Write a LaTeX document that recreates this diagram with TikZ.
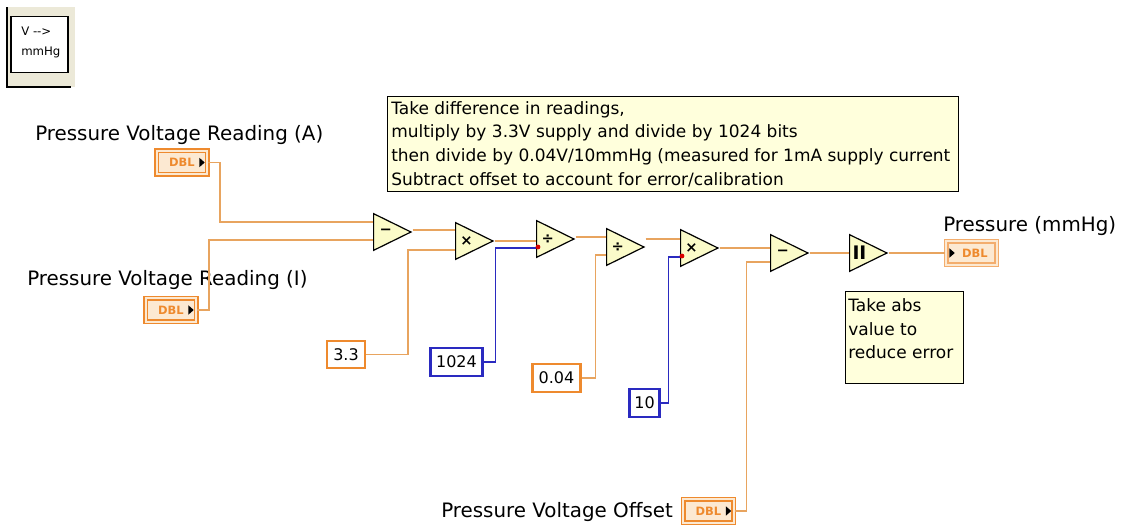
\documentclass[tikz,border=0pt]{standalone}
\usepackage{fontspec}
\setmainfont{DejaVu Sans}
\usetikzlibrary{shapes.geometric}
\definecolor{wireorange}{HTML}{E8A45F}
\definecolor{wireblue}{HTML}{2A2AC0}
\definecolor{termorange}{HTML}{EE8A2E}
\definecolor{termfill}{HTML}{FCE9D2}
\definecolor{notefill}{HTML}{FFFFDC}
\definecolor{primfill}{HTML}{FBFBC9}
\definecolor{iconfill}{HTML}{ECE9D8}
\begin{document}
\begin{tikzpicture}[
    x=0.75pt, y=-0.75pt,
    font=\fontsize{14.9}{17}\selectfont,
    prim/.style={draw=black, line width=0.9pt, fill=primfill, isosceles triangle, isosceles triangle stretches, shape border rotate=0, inner sep=0pt, minimum width=27.5pt, minimum height=28pt, anchor=lower side, font=\fontsize{11}{11}\selectfont\bfseries},
    wire/.style={draw=wireorange, line width=1.1pt},
    bluewire/.style={draw=wireblue, line width=1.1pt},
    dblterm/.style={draw=termorange, line width=1.1pt, double=termfill, double distance=1.4pt, fill=termfill, inner sep=0pt, minimum width=38pt, minimum height=17.5pt, text=termorange, font=\fontsize{8.6}{9}\selectfont\bfseries},
    constorange/.style={draw=termorange, line width=1.7pt, fill=white, inner sep=0pt, minimum height=20.5pt, font=\fontsize{12}{13}\selectfont},
    constblue/.style={constorange, draw=wireblue},
    note/.style={draw=black, line width=0.8pt, fill=notefill, inner sep=0pt, anchor=north west},
    notetext/.style={anchor=west, inner sep=0pt, font=\fontsize{12.75}{14}\selectfont},
    label/.style={inner sep=0pt},
    pin/.style={circle, fill=red!85!black, inner sep=0pt, minimum size=3.6pt}
]
    \useasboundingbox (0,0) rectangle (1122,525);

    % icon
    \fill[iconfill] (7,7) rectangle (75,87);
    \draw[black, line width=0.9pt] (7,7) -- (7,87) -- (71,87);
    \node[draw=black, line width=1.1pt, fill=white, minimum width=43pt, minimum height=42pt, inner sep=0pt] (icon) at (39.5,44.5) {};
    \node[label, font=\fontsize{8.8}{9}\selectfont, anchor=west] (iconA) at (21,31) {V {-}{-}>};
    \node[label, font=\fontsize{8.8}{9}\selectfont, anchor=west] (iconB) at (21,52) {mmHg};

    % notes
    \node[note, minimum width=428pt, minimum height=71pt] (noteA) at (387,96) {};
    \node[notetext] (noteA1) at (391,110) {Take difference in readings,};
    \node[notetext] (noteA2) at (391,133) {multiply by 3.3V supply and divide by 1024 bits};
    \node[notetext] (noteA3) at (391,157) {then divide by 0.04V/10mmHg (measured for 1mA supply current};
    \node[notetext] (noteA4) at (391,180) {Subtract offset to account for error/calibration};

    \node[note, minimum width=88.5pt, minimum height=69pt] (noteB) at (845,291) {};
    \node[notetext] (noteB1) at (848,305) {Take abs};
    \node[notetext] (noteB2) at (848,329) {value to};
    \node[notetext] (noteB3) at (848,352) {reduce error};

    % labels
    \node[label, anchor=west] (labA) at (35,135) {Pressure Voltage Reading (A)};
    \node[label, anchor=west] (labI) at (27,280) {Pressure Voltage Reading (I)};
    \node[label, anchor=west] (labO) at (441,512) {Pressure Voltage Offset};
    \node[label, anchor=west] (labP) at (943,226) {Pressure (mmHg)};

    % terminals
    \node[dblterm] (termA) at (182,162.5) {DBL\hspace{7pt}};
    \node[dblterm] (termI) at (171,310) {DBL\hspace{7pt}};
    \node[dblterm] (termO) at (708.5,511) {DBL\hspace{7pt}};
    \node[dblterm, draw=termorange!70] (termP) at (971.5,253) {\hspace{5pt}DBL};
    \foreach \t in {termA,termI,termO}
        \fill[black] ([xshift=-6.5pt,yshift=3.5pt]\t.east) -- ([xshift=-2.5pt]\t.east) -- ([xshift=-6.5pt,yshift=-3.5pt]\t.east) -- cycle;
    \fill[black] ([xshift=3pt,yshift=3.5pt]termP.west) -- ([xshift=7pt]termP.west) -- ([xshift=3pt,yshift=-3.5pt]termP.west) -- cycle;

    % constants
    \node[constorange, minimum width=28pt] (c33) at (346,354.5) {3.3};
    \node[constblue, minimum width=39pt] (c1024) at (456.5,362) {1024};
    \node[constorange, minimum width=36pt] (c004) at (556.5,378) {0.04};
    \node[constblue, minimum width=22.5pt] (c10) at (644.5,403) {10};

    % primitives
    \node[prim] (subA) at (373,232) {−};
    \node[prim] (mulA) at (455,241) {×};
    \node[prim] (divA) at (536,239) {÷};
    \node[prim] (divB) at (606,247) {÷};
    \node[prim] (mulB) at (680,248) {×};
    \node[prim] (subB) at (770,253) {−};
    \node[prim, font=\fontsize{14}{14}\selectfont\bfseries] (absA) at (849,253) {II};

    % inputs
    \coordinate (subIn1) at (373,222);
    \coordinate (subIn2) at (373,240);
    \coordinate (mulIn1) at (455,230);
    \coordinate (mulIn2) at (455,250);
    \coordinate (divIn1) at (536,241);
    \coordinate (divIn2) at (536,248);
    \coordinate (divIn3) at (606,237);
    \coordinate (divIn4) at (606,255);
    \coordinate (mulIn3) at (680,239);
    \coordinate (mulIn4) at (680,257);
    \coordinate (subIn3) at (770,248);
    \coordinate (subIn4) at (770,262);

    % wires
    \draw[wire] (termA.east) -- ++(12,0) |- (subIn1);
    \draw[wire] (termI.east) -- ++(12,0) |- (subIn2);
    \draw[wire] (subA.apex |- mulIn1) -- (mulIn1);
    \draw[wire] (c33.east) -- ++(42,0) |- (mulIn2);
    \draw[wire] (mulA.apex |- divIn1) -- (divIn1);
    \draw[bluewire] (c1024.east) -- ++(12,0) |- (divIn2);
    \draw[wire] (divA.apex |- divIn3) -- (divIn3);
    \draw[wire] (c004.east) -- ++(14,0) |- (divIn4);
    \draw[wire] (divB.apex |- mulIn3) -- (mulIn3);
    \draw[bluewire] (c10.east) -- ++(8,0) |- (mulIn4);
    \draw[wire] (mulB.apex |- subIn3) -- (subIn3);
    \draw[wire] (termO.east) -- ++(12,0) |- (subIn4);
    \draw[wire] (subB.apex) -- (absA.lower side);
    \draw[wire] (absA.apex) -- (termP.west);

    % coercion dots
    \node[pin] (pinA) at (538,247) {};
    \node[pin] (pinB) at (682,256) {};
\end{tikzpicture}
\end{document}
